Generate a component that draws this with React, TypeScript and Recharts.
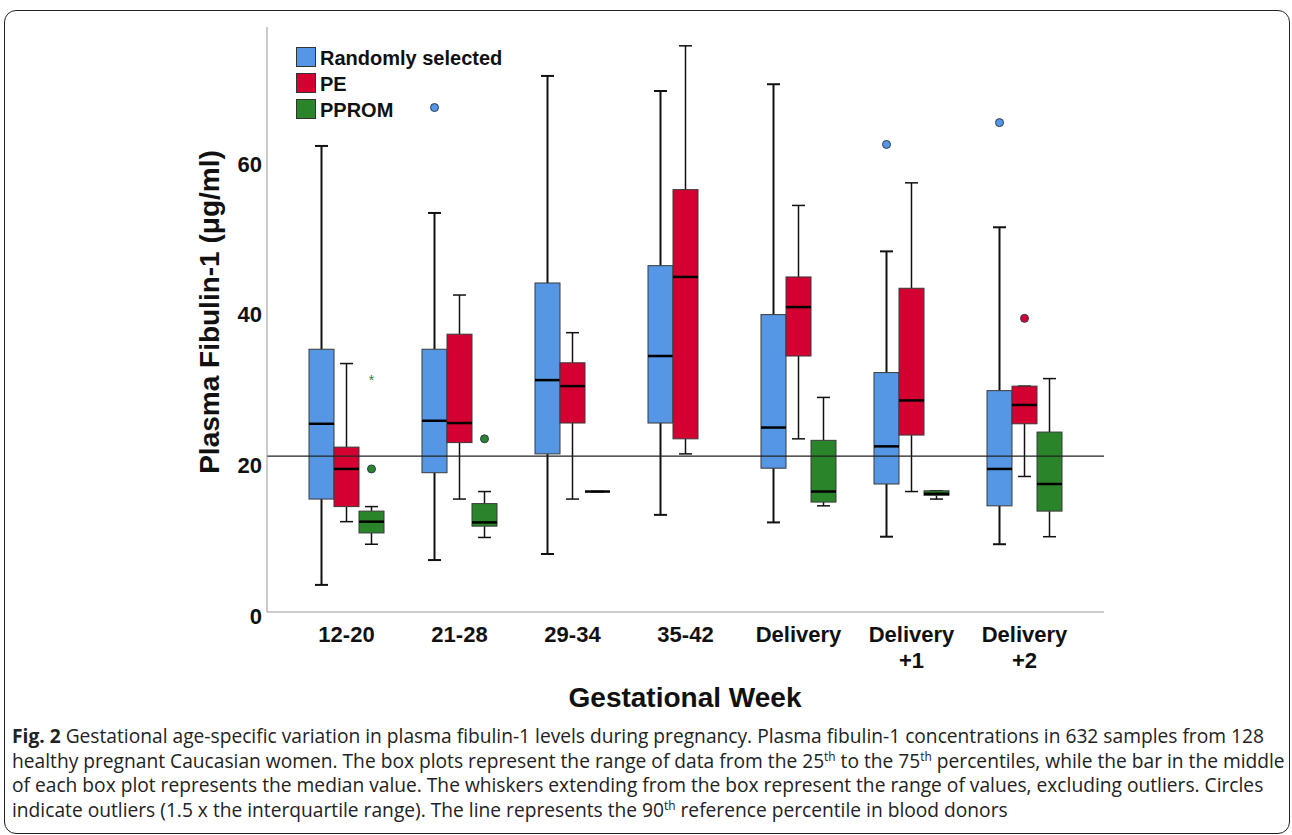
import React from "react";
import { ComposedChart, Bar, XAxis, YAxis, ReferenceLine } from "recharts";

const categories = ["12-20", "21-28", "29-34", "35-42", "Delivery", "Delivery +1", "Delivery +2"];
const seriesNames = ["Randomly selected", "PE", "PPROM"];
const seriesColors = ["#5597e4", "#d50032", "#2a852a"];

// Randomly selected
const randomMin = [4.1, 7.4, 8.2, 13.4, 12.4, 10.5, 9.5];
const randomQ1 = [15.5, 19.0, 21.5, 25.6, 19.6, 17.5, 14.6];
const randomMedian = [25.5, 25.9, 31.3, 34.5, 25.0, 22.5, 19.5];
const randomQ3 = [35.4, 35.4, 44.2, 46.5, 40.0, 32.3, 29.9];
const randomMax = [62.4, 53.5, 71.7, 69.7, 70.6, 48.4, 51.6];
const randomOutliers = [[], [67.5], [], [], [], [62.6], [65.5]];

// PE
const peMin = [12.5, 15.5, 15.5, 21.5, 23.5, 16.5, 18.5];
const peQ1 = [14.5, 23.0, 25.6, 23.5, 34.5, 24.0, 25.5];
const peMedian = [19.5, 25.6, 30.5, 45.0, 41.0, 28.6, 28.0];
const peQ3 = [22.4, 37.4, 33.6, 56.6, 45.0, 43.5, 30.5];
const peMax = [33.5, 42.6, 37.6, 75.7, 54.5, 57.5, 30.5];
const peOutliers = [[], [], [], [], [], [], [39.5]];

// PPROM (no samples at 35-42)
const ppromMin = [9.5, 10.4, 16.5, null, 14.6, 15.5, 10.5];
const ppromQ1 = [11.0, 11.9, 16.5, null, 15.1, 16.0, 13.9];
const ppromMedian = [12.5, 12.4, 16.5, null, 16.5, 16.2, 17.5];
const ppromQ3 = [13.9, 14.9, 16.5, null, 23.3, 16.6, 24.4];
const ppromMax = [14.5, 16.5, 16.5, null, 29.0, 16.6, 31.5];
const ppromOutliers = [[19.5], [23.5], [], [], [], [], []];
const ppromExtremes = [[31.4], [], [], [], [], [], []];

const donorP90 = 21.2;
const yTicks = [0, 20, 40, 60];

const stat = (mins, q1s, meds, q3s, maxs, outs, extremes, i) =>
  mins[i] == null
    ? null
    : { min: mins[i], q1: q1s[i], med: meds[i], q3: q3s[i], max: maxs[i], out: outs[i], ext: extremes ? extremes[i] : [] };

const data = categories.map((cat, i) => ({
  cat,
  random: stat(randomMin, randomQ1, randomMedian, randomQ3, randomMax, randomOutliers, null, i),
  pe: stat(peMin, peQ1, peMedian, peQ3, peMax, peOutliers, null, i),
  pprom: stat(ppromMin, ppromQ1, ppromMedian, ppromQ3, ppromMax, ppromOutliers, ppromExtremes, i),
}));

const keys = ["random", "pe", "pprom"];
const FONT = '"Liberation Sans", Arial, sans-serif';

function BoxGlyph(props: any) {
  const { x, y, width, height, payload, seriesKey, color, whiskerWidth } = props;
  const s = payload && payload[seriesKey];
  if (!s) return null;
  const span = s.max - s.min;
  const k = span > 0 ? height / span : 0;
  const py = (v: number) => y + (s.max - v) * k;
  const cx = x + width / 2;
  const cap = 6.5;
  return (
    <g>
      <line x1={cx} x2={cx} y1={py(s.max)} y2={py(s.q3)} stroke="#111" strokeWidth={whiskerWidth} />
      <line x1={cx} x2={cx} y1={py(s.q1)} y2={py(s.min)} stroke="#111" strokeWidth={whiskerWidth} />
      <line x1={cx - cap} x2={cx + cap} y1={py(s.max)} y2={py(s.max)} stroke="#111" strokeWidth={whiskerWidth} />
      <line x1={cx - cap} x2={cx + cap} y1={py(s.min)} y2={py(s.min)} stroke="#111" strokeWidth={whiskerWidth} />
      <rect x={x} y={py(s.q3)} width={width} height={Math.max(0, py(s.q1) - py(s.q3))} fill={color} stroke="#3a3a3a" strokeWidth={1} />
      <line x1={x} x2={x + width} y1={py(s.med)} y2={py(s.med)} stroke="#000" strokeWidth={2.5} />
      {s.out.map((v, j) => (
        <circle key={"o" + j} cx={cx} cy={py(v)} r={4} fill={color} stroke="#2b3a55" strokeWidth={1} />
      ))}
      {s.ext.map((v, j) => (
        <text key={"e" + j} x={cx} y={py(v) + 6} textAnchor="middle" fontSize={14} fill={color} fontFamily={FONT}>
          *
        </text>
      ))}
    </g>
  );
}

function XTick(props: any) {
  const { x, y, payload } = props;
  const parts = String(payload.value).split(" ");
  return (
    <text x={x} y={y + 30} textAnchor="middle" fontFamily={FONT} fontWeight="bold" fontSize={22} fill="#111">
      {parts.map((p, i) => (
        <tspan key={i} x={x} dy={i === 0 ? 0 : 26}>
          {p}
        </tspan>
      ))}
    </text>
  );
}

const supStyle = { fontSize: "0.62em", lineHeight: 0 };

export default function App() {
  return (
    <div style={{ position: "absolute", left: 0, top: 0, width: 1292, height: 835, background: "#fff", overflow: "hidden" }}>
      <div
        style={{
          position: "absolute",
          left: 4,
          top: 10,
          width: 1286,
          height: 824,
          border: "1.5px solid #222",
          borderRadius: 12,
          boxSizing: "border-box",
        }}
      />
      <div style={{ position: "absolute", left: 0, top: 0 }}>
        <ComposedChart
          width={1292}
          height={700}
          data={data}
          margin={{ top: 27, right: 188, bottom: 28, left: 207 }}
          barGap={0}
          barCategoryGap={19}
        >
          <XAxis
            dataKey="cat"
            height={60}
            tick={<XTick />}
            tickLine={false}
            tickSize={0}
            tickMargin={0}
            axisLine={{ stroke: "#999", strokeWidth: 1 }}
            padding={{ left: 23, right: 23 }}
            interval={0}
          />
          <YAxis
            type="number"
            width={60}
            domain={[0.5, 78.2]}
            allowDataOverflow
            ticks={yTicks}
            interval={0}
            tickLine={false}
            tickSize={0}
            tickMargin={5}
            axisLine={{ stroke: "#999", strokeWidth: 1 }}
            tick={{ fontFamily: FONT, fontWeight: "bold", fontSize: 22, fill: "#111" }}
          />
          {keys.map((key, si) => (
            <Bar
              key={key}
              dataKey={(row: any) => (row[key] ? [row[key].min, row[key].max] : null)}
              barSize={25}
              fill={seriesColors[si]}
              isAnimationActive={false}
              shape={(p: any) => (
                <BoxGlyph {...p} seriesKey={key} color={seriesColors[si]} whiskerWidth={si === 0 ? 2 : 1.5} />
              )}
            />
          ))}
          <ReferenceLine y={donorP90} stroke="#222" strokeWidth={1.2} />
        </ComposedChart>
      </div>

      {/* legend */}
      <div style={{ position: "absolute", left: 296, top: 44, fontFamily: FONT, fontWeight: "bold", fontSize: 20, color: "#111" }}>
        {seriesNames.map((name, i) => (
          <div key={name} style={{ display: "flex", alignItems: "center", height: 26 }}>
            <span
              style={{
                display: "inline-block",
                width: 20,
                height: 20,
                background: seriesColors[i],
                border: "1px solid #333",
                boxSizing: "border-box",
                marginRight: 4,
              }}
            />
            <span style={{ lineHeight: "20px", marginTop: 2 }}>{name}</span>
          </div>
        ))}
      </div>

      {/* axis titles */}
      <div
        style={{
          position: "absolute",
          left: 210,
          top: 312,
          transform: "translate(-50%, -50%) rotate(-90deg)",
          whiteSpace: "nowrap",
          fontFamily: FONT,
          fontWeight: "bold",
          fontSize: 28,
          color: "#111",
        }}
      >
        Plasma Fibulin-1 (μg/ml)
      </div>
      <div
        style={{
          position: "absolute",
          left: 685,
          top: 698,
          transform: "translate(-50%, -50%)",
          whiteSpace: "nowrap",
          fontFamily: FONT,
          fontWeight: "bold",
          fontSize: 28,
          color: "#111",
        }}
      >
        Gestational Week
      </div>

      {/* caption */}
      <div
        style={{
          position: "absolute",
          left: 12,
          top: 724,
          fontFamily: '"Open Sans", sans-serif',
          fontSize: 19.2,
          lineHeight: "24.5px",
          color: "#222",
          whiteSpace: "nowrap",
        }}
      >
        <div>
          <b>Fig. 2</b> Gestational age-specific variation in plasma fibulin-1 levels during pregnancy. Plasma fibulin-1 concentrations in 632 samples from 128
        </div>
        <div>
          healthy pregnant Caucasian women. The box plots represent the range of data from the 25<sup style={supStyle}>th</sup> to the 75
          <sup style={supStyle}>th</sup> percentiles, while the bar in the middle
        </div>
        <div>
          of each box plot represents the median value. The whiskers extending from the box represent the range of values, excluding outliers. Circles
        </div>
        <div>
          indicate outliers (1.5 x the interquartile range). The line represents the 90<sup style={supStyle}>th</sup> reference percentile in blood donors
        </div>
      </div>
    </div>
  );
}
